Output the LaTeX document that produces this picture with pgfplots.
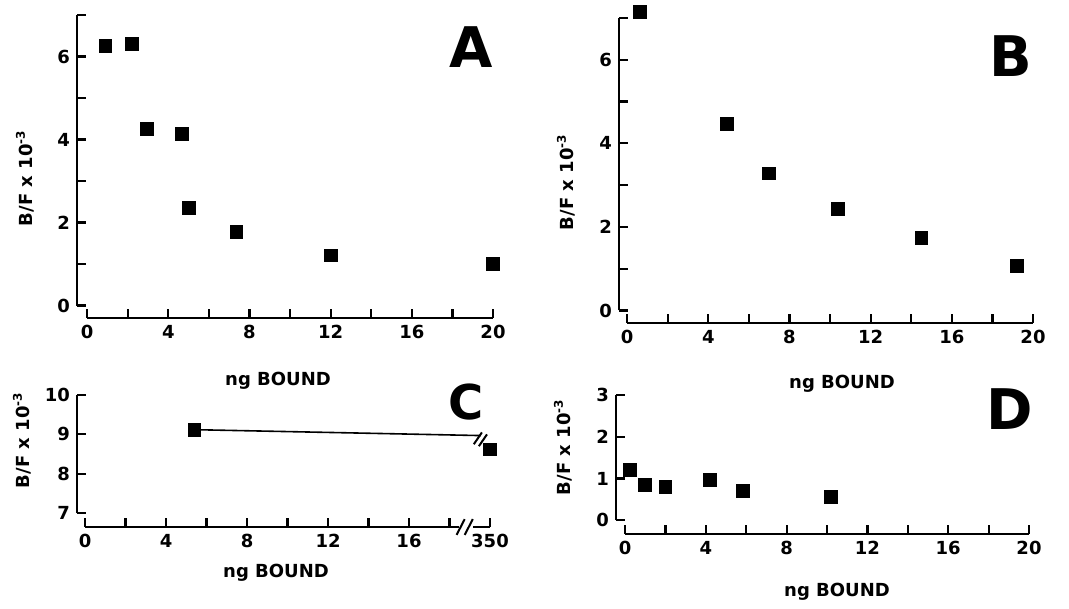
\documentclass[border=0pt]{standalone}
\usepackage{pgfplots}
\pgfplotsset{compat=1.18}
\usepackage{fontspec}
\setmainfont{DejaVu Sans}
\pgfplotsset{
  panel/.style={
    scale only axis,
    axis x line*=bottom, axis y line*=left,
    axis line style={draw=none},
    tick align=inside,
    major tick length=4.5pt, minor tick length=4.5pt,
    every tick/.style={draw=black, line width=1.1pt},
    tick label style={font=\bfseries\fontsize{9}{10}\selectfont},
    /pgf/number format/assume math mode=true,
    clip=false, anchor=south west,
  },
  pts/.style={only marks, mark=square*, mark size=3.2pt, black},
}
\newcommand{\ylab}{B/F x 10\textsuperscript{-3}}
\begin{document}
\begin{tikzpicture}[font=\bfseries]
\useasboundingbox (0,0) rectangle (534.5pt,304.5pt);

% ---------- A ----------
\begin{axis}[panel, at={(38.5pt,145.5pt)}, width=208pt, height=151.5pt,
  xmin=-0.5, xmax=20, ymin=-0.3, ymax=7,
  xtick={0,4,8,12,16,20}, minor xtick={2,6,10,14,18},
  ytick={0,2,4,6}, minor ytick={1,3,5,7}]
\addplot[pts] coordinates {(0.9,6.25) (2.2,6.3) (2.95,4.26) (4.66,4.14) (5.0,2.35) (7.35,1.77) (12.0,1.21) (20.0,1.01)};
\draw[line width=1.4pt] (axis cs:-0.5,0) -- (axis cs:-0.5,7);
\draw[line width=1.4pt] (axis cs:0,-0.3) -- (axis cs:20,-0.3);
\end{axis}

% ---------- B ----------
\begin{axis}[panel, at={(309.5pt,143pt)}, width=207pt, height=152.5pt,
  xmin=-0.4, xmax=20, ymin=-0.3, ymax=7,
  xtick={0,4,8,12,16,20}, minor xtick={2,6,10,14,18},
  ytick={0,2,4,6}, minor ytick={1,3,5,7}]
\addplot[pts] coordinates {(0.64,7.15) (4.9,4.46) (7.0,3.28) (10.4,2.43) (14.5,1.74) (19.2,1.06)};
\draw[line width=1.4pt] (axis cs:-0.4,0) -- (axis cs:-0.4,7);
\draw[line width=1.4pt] (axis cs:0,-0.3) -- (axis cs:20,-0.3);
\end{axis}

% ---------- C ----------
\begin{axis}[panel, at={(38.5pt,41pt)}, width=206.5pt, height=66pt,
  xmin=-0.4, xmax=20, ymin=6.65, ymax=10,
  xtick={0,4,8,12,16,20}, xticklabels={0,4,8,12,16,350}, minor xtick={2,6,10,14,18},
  ytick={7,8,9,10}]
\addplot[black, line width=0.8pt] coordinates {(5.4,9.12) (19.55,8.97)};
\addplot[pts] coordinates {(5.4,9.12) (20,8.62)};
\draw[line width=1.4pt] (axis cs:-0.4,7) -- (axis cs:-0.4,10);
\draw[line width=1.4pt] (axis cs:0,6.65) -- (axis cs:18.45,6.65);
\draw[line width=1.4pt] (axis cs:19.15,6.65) -- (axis cs:20,6.65);
\draw[line width=1pt] (axis cs:18.35,6.45) -- (axis cs:18.75,6.85);
\draw[line width=1pt] (axis cs:18.75,6.45) -- (axis cs:19.15,6.85);
\draw[line width=1pt] (axis cs:19.2,8.75) -- (axis cs:19.6,9.05);
\draw[line width=1pt] (axis cs:19.45,8.7) -- (axis cs:19.85,9.0);
\end{axis}

% ---------- D ----------
\begin{axis}[panel, at={(308pt,37.5pt)}, width=206.5pt, height=69.5pt,
  xmin=-0.45, xmax=20, ymin=-0.33, ymax=3,
  xtick={0,4,8,12,16,20}, minor xtick={2,6,10,14,18},
  ytick={0,1,2,3}]
\addplot[pts] coordinates {(0.25,1.2) (1.0,0.84) (2.0,0.8) (4.2,0.96) (5.85,0.7) (10.2,0.56)};
\draw[line width=1.4pt] (axis cs:-0.45,0) -- (axis cs:-0.45,3);
\draw[line width=1.4pt] (axis cs:0,-0.33) -- (axis cs:20,-0.33);
\end{axis}

% ---------- labels ----------
\begin{scope}[every node/.style={font=\bfseries\fontsize{9}{10}\selectfont, inner sep=0pt}]
\node[rotate=90] at (12.5pt,215.5pt) {\ylab};
\node[rotate=90] at (283pt,213.5pt) {\ylab};
\node[rotate=90] at (11pt,84.5pt) {\ylab};
\node[rotate=90] at (281.5pt,81pt) {\ylab};
\node at (139pt,114pt) {ng BOUND};
\node at (421pt,112.5pt) {ng BOUND};
\node at (138pt,18pt) {ng BOUND};
\node at (418.5pt,8.5pt) {ng BOUND};
\end{scope}
\begin{scope}[every node/.style={font=\bfseries\fontsize{28}{30}\selectfont, inner sep=0pt}]
\node at (235.5pt,281pt) {A};
\node at (505.5pt,276.5pt) {B};
\node[font=\bfseries\fontsize{24}{26}\selectfont] at (233pt,103.5pt) {C};
\node at (505pt,100pt) {D};
\end{scope}
\end{tikzpicture}
\end{document}
